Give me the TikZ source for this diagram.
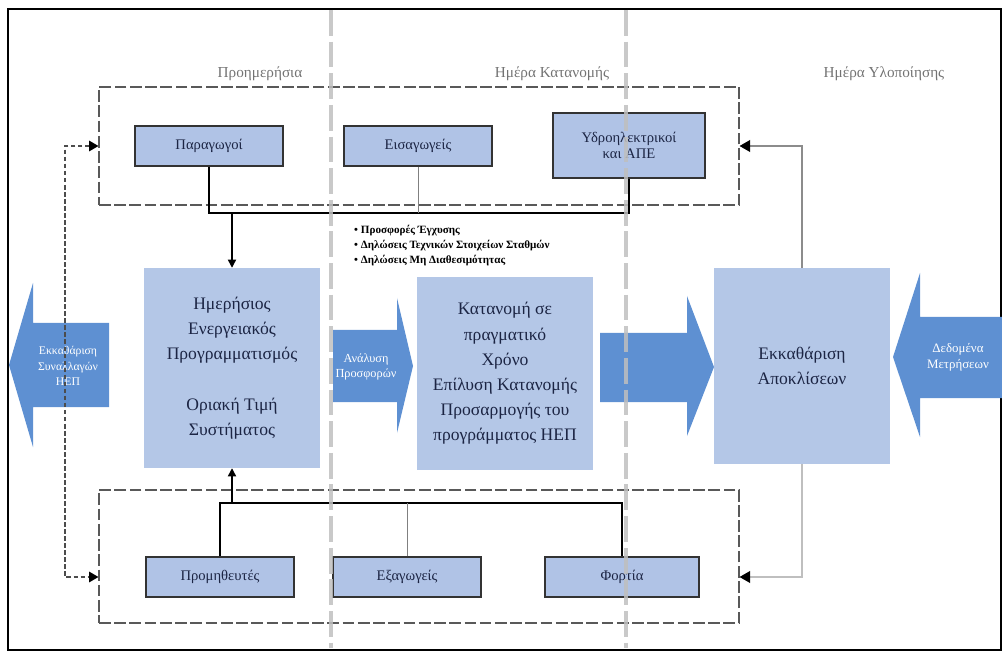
\documentclass[tikz,border=0pt]{standalone}
\usepackage{fontspec}
\setmainfont{Liberation Serif}
\usetikzlibrary{positioning, arrows.meta}

\definecolor{stagefill}{HTML}{B4C7E7}
\definecolor{actorfill}{HTML}{B0C3E6}
\definecolor{arrowfill}{HTML}{5E90D2}
\definecolor{txtdark}{HTML}{1C2544}

\begin{document}
\begin{tikzpicture}[x=0.03cm, y=-0.03cm,
	grp/.style={draw=black!65, dash pattern=on 10pt off 3pt, line width=0.9pt, minimum width=19.2cm, minimum height=3.54cm, inner sep=0pt},
	actor/.style={rectangle, draw=black!80, line width=1.2pt, fill=actorfill, text=txtdark, font=\fontsize{12.5}{14}\selectfont, minimum height=1.2cm, minimum width=4.44cm, inner sep=0pt, align=center},
	stage/.style={rectangle, fill=stagefill, text=txtdark, font=\fontsize{15}{21.5}\selectfont, minimum width=5.28cm, inner sep=0pt, align=center},
	arrowtxt/.style={text=white, font=\fontsize{10}{13}\selectfont, align=center},
	hdr/.style={text=black!55, font=\fontsize{13}{15}\selectfont},
	bus/.style={line width=1.6pt, black},
	thinbus/.style={line width=0.7pt, black!50},
	flow/.style={line width=1.2pt, -{Triangle[length=7pt, width=7pt]}},
	feedback/.style={line width=1.3pt, black!45, -{Triangle[length=9pt, width=10pt, black]}}]
	\useasboundingbox (0,0) rectangle (1002,652);
	\draw[line width=1.5pt] (8,9) rectangle (1001,650);

	% phase headings
	\node[hdr] (hdrday) at (260,74) {Προημερήσια};
	\node[hdr] (hdrrt) at (552,74) {Ημέρα Κατανομής};
	\node[hdr] (hdrpost) at (884,74) {Ημέρα Υλοποίησης};

	% participant groups
	\node[grp] (topgrp) at (419,146) {};
	\node[grp, minimum height=3.99cm] (botgrp) at (419,556.5) {};
	\node[actor] (prod) at (209,146) {Παραγωγοί};
	\node[actor] (imp) at (418,146) {Εισαγωγείς};
	\node[actor, minimum width=4.56cm, minimum height=1.95cm] (hydro) at (629,145.5) {Υδροηλεκτρικοί\\και ΑΠΕ};
	\node[actor] (supp) at (220,577) {Προμηθευτές};
	\node[actor] (exp) at (407,577) {Εξαγωγείς};
	\node[actor, minimum width=4.62cm] (load) at (622,577) {Φορτία};

	% stages
	\node[stage, minimum height=6cm] (dap) at (232,368) {Ημερήσιος\\Ενεργειακός\\Προγραμματισμός\\[21.5pt]Οριακή Τιμή\\Συστήματος};
	\node[stage, minimum height=5.79cm] (rt) at (505,373.5) {Κατανομή σε\\πραγματικό\\Χρόνο\\Επίλυση Κατανομής\\Προσαρμογής του\\προγράμματος ΗΕΠ};
	\node[stage, minimum height=5.88cm] (imb) at (802,366) {Εκκαθάριση\\Αποκλίσεων};

	% block arrows
	\fill[arrowfill] (9,365) -- (33,283) -- (33,323) -- (109,323) -- (109,407) -- (33,407) -- (33,447) -- cycle;
	\fill[arrowfill] (333,330) -- (397,330) -- (397,298) -- (413,366) -- (397,433) -- (397,402) -- (333,402) -- cycle;
	\fill[arrowfill] (600,333) -- (687,333) -- (687,296) -- (714,367) -- (687,436) -- (687,402) -- (600,402) -- cycle;
	\fill[arrowfill] (893,357) -- (920,273) -- (920,317) -- (1002,317) -- (1002,398) -- (920,398) -- (920,437) -- cycle;
	\node[arrowtxt] (settle) at (68,366) {Εκκαθάριση\\Συναλλαγών\\ΗΕΠ};
	\node[arrowtxt, font=\fontsize{10.5}{13}\selectfont] (offers) at (366,367) {Ανάλυση\\Προσφορών};
	\node[arrowtxt, font=\fontsize{11}{13.5}\selectfont] (meter) at (958,357) {Δεδομένα\\Μετρήσεων};

	% submissions
	\node[anchor=north west, font=\bfseries\fontsize{9.5}{13}\selectfont, align=left, inner sep=0pt] (subm) at (354,225) {• Προσφορές Έγχυσης\\• Δηλώσεις Τεχνικών Στοιχείων Σταθμών\\• Δηλώσεις Μη Διαθεσιμότητας};

	% connectors
	\coordinate (topbus) at (0,213);
	\coordinate (botbus) at (0,503);
	\coordinate (loop) at (65,0);
	\draw[bus] (prod.south) -- (prod.south |- topbus) -| (hydro.south);
	\draw[thinbus] (imp.south) -- (imp.south |- topbus);
	\draw[flow] (dap.north |- topbus) -- (dap.north);
	\draw[bus, line width=1.3pt] (supp.north) -- (supp.north |- botbus) -| (load.north);
	\draw[thinbus] (exp.north) -- (exp.north |- botbus);
	\draw[flow] (dap.south |- botbus) -- (dap.south);
	\draw[feedback] (imb.north) |- (prod -| topgrp.east);
	\draw[feedback, black!25] (imb.south) |- (supp -| botgrp.east);
	\draw[line width=1.2pt, black!70, dash pattern=on 4pt off 2pt, {Triangle[length=8pt, width=9pt, black]}-{Triangle[length=8pt, width=9pt, black]}] (prod -| topgrp.west) -- (prod -| loop) -- (supp -| loop) -- (supp -| botgrp.west);

	% phase separators
	\foreach \sx in {331, 626}
		\draw[line width=3pt, black!25, opacity=0.85, dash pattern=on 22pt off 5pt] (\sx,10) -- (\sx,648);
\end{tikzpicture}
\end{document}
